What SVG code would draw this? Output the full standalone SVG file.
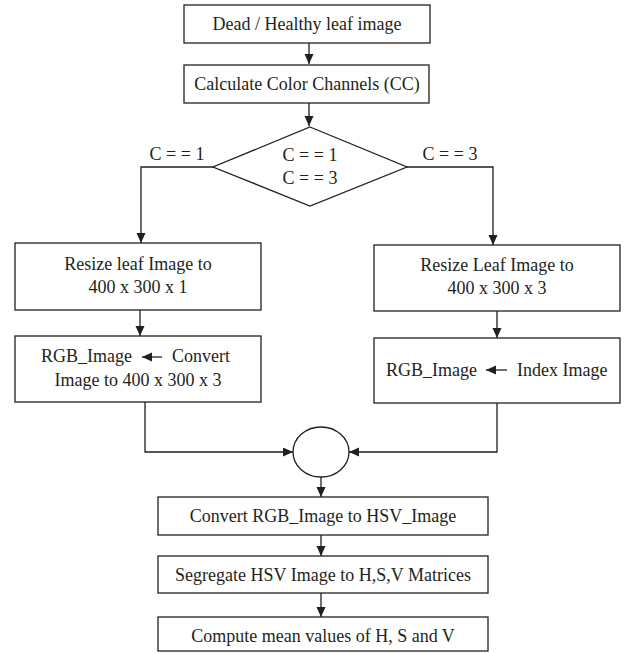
<svg xmlns="http://www.w3.org/2000/svg" width="625" height="653" viewBox="0 0 625 653">
<defs>
<marker id="ah" markerUnits="userSpaceOnUse" markerWidth="10" markerHeight="10" refX="10" refY="4.5" orient="auto">
<path d="M0,0 L10,4.5 L0,9 z" fill="#231f20"/>
</marker>
<style>
.box{fill:#fff;stroke:#231f20;stroke-width:1.3}
.t{font-family:'Liberation Serif','DejaVu Serif',serif;font-size:18px;fill:#231f20;text-anchor:middle}
.ts{font-family:'Liberation Serif','DejaVu Serif',serif;font-size:18px;fill:#231f20}
.c{fill:none;stroke:#231f20;stroke-width:1.3}
</style>
</defs>
<rect width="625" height="653" fill="#fff"/>
<g id="connectors">
<path class="c" d="M309,43 V64" marker-end="url(#ah)"/>
<path class="c" d="M309,103 V126" marker-end="url(#ah)"/>
<path class="c" d="M213,167 H141 V243" marker-end="url(#ah)"/>
<path class="c" d="M407,167 H493 V245" marker-end="url(#ah)"/>
<path class="c" d="M140,310 V336" marker-end="url(#ah)"/>
<path class="c" d="M497,311 V338" marker-end="url(#ah)"/>
<path class="c" d="M145,402 V452 H293" marker-end="url(#ah)"/>
<path class="c" d="M497,403 V452 H349" marker-end="url(#ah)"/>
<path class="c" d="M321,477 V497" marker-end="url(#ah)"/>
<path class="c" d="M321,535 V556" marker-end="url(#ah)"/>
<path class="c" d="M321,593 V617" marker-end="url(#ah)"/>
<text class="t" x="177" y="160">C = = 1</text>
<text class="t" x="450" y="160">C = = 3</text>
</g>
<g id="n1">
<rect class="box" x="184" y="5" width="246" height="38"/>
<text class="t" x="307" y="30">Dead / Healthy leaf image</text>
</g>
<g id="n2">
<rect class="box" x="184" y="65" width="245" height="38"/>
<text class="t" x="307" y="90">Calculate Color Channels (CC)</text>
</g>
<g id="n3">
<polygon class="box" points="310,127 407,167 310,206 213,167"/>
<text class="t" x="310" y="161">C = = 1</text>
<text class="t" x="310" y="184">C = = 3</text>
</g>
<g id="n4">
<rect class="box" x="15" y="243" width="246" height="67"/>
<text class="t" x="138" y="270">Resize leaf Image to</text>
<text class="t" x="138" y="293">400 x 300 x 1</text>
</g>
<g id="n5">
<rect class="box" x="374" y="245" width="246" height="66"/>
<text class="t" x="497" y="271">Resize Leaf Image to</text>
<text class="t" x="497" y="294">400 x 300 x 3</text>
</g>
<g id="n6">
<rect class="box" x="15" y="336" width="246" height="66"/>
<text class="ts" x="41" y="362">RGB_Image</text>
<path class="c" d="M162,357 H142" marker-end="url(#ah)"/>
<text class="ts" x="172" y="362">Convert</text>
<text class="t" x="138" y="386">Image to 400 x 300 x 3</text>
</g>
<g id="n7">
<rect class="box" x="374" y="338" width="246" height="65"/>
<text class="ts" x="386" y="376">RGB_Image</text>
<path class="c" d="M507,370 H486" marker-end="url(#ah)"/>
<text class="ts" x="517" y="376">Index Image</text>
</g>
<g id="n8">
<ellipse class="box" cx="321" cy="452" rx="28" ry="25"/>
</g>
<g id="n9">
<rect class="box" x="158" y="497" width="330" height="38"/>
<text class="t" x="323" y="522">Convert RGB_Image to HSV_Image</text>
</g>
<g id="n10">
<rect class="box" x="158" y="556" width="330" height="37"/>
<text class="t" x="323" y="581">Segregate HSV Image to H,S,V Matrices</text>
</g>
<g id="n11">
<rect class="box" x="158" y="617" width="330" height="34"/>
<text class="t" x="323" y="642">Compute mean values of H, S and V</text>
</g>
</svg>
